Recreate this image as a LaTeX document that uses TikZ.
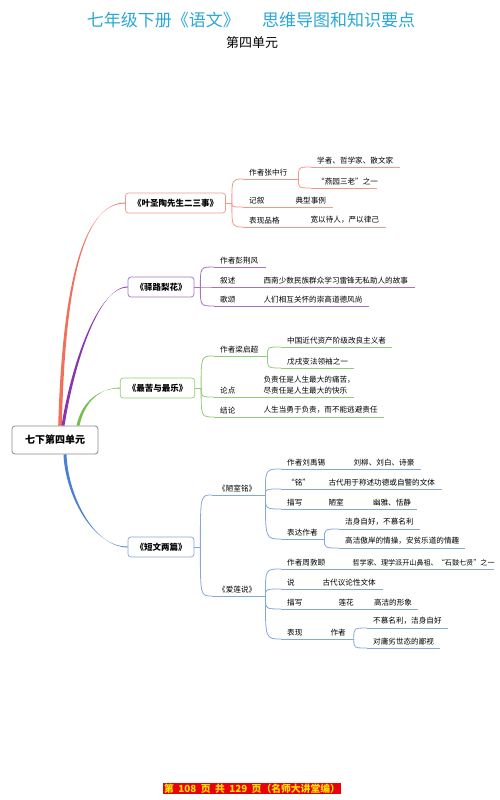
\documentclass[tikz,border=0pt]{standalone}
\usepackage{fontspec}
\setmainfont{Noto Sans CJK SC}
\usetikzlibrary{calc}

\definecolor{titleblue}{HTML}{2AA7D9}
\definecolor{redbr}{HTML}{F0705C}
\definecolor{redln}{HTML}{F29A8A}
\definecolor{purbr}{HTML}{8A35AE}
\definecolor{purln}{HTML}{A772C2}
\definecolor{grnbr}{HTML}{74BE52}
\definecolor{grnln}{HTML}{92CC78}
\definecolor{blubr}{HTML}{4A80D2}
\definecolor{bluln}{HTML}{84A8DA}
\definecolor{pagered}{HTML}{E8000B}
\definecolor{pageyel}{HTML}{FFE600}

\begin{document}
\begin{tikzpicture}[
  x=1bp, y=-1bp,
  font=\fontsize{7.6bp}{9bp}\selectfont,
  rootbox/.style={
    draw=black!45, rounded corners=3bp, line width=0.8bp, fill=white,
    minimum width=86bp, minimum height=28bp,
    font=\fontsize{10bp}{12bp}\selectfont\bfseries
  },
  book/.style={
    draw=#1, rounded corners=3bp, line width=0.7bp, fill=white,
    inner xsep=7.5bp, minimum height=20bp,
    font=\fontsize{8.5bp}{10bp}\selectfont\bfseries
  },
  tp/.style={anchor=south west, inner xsep=6bp, inner ysep=3bp, text width=#1bp, align=left},
  rl/.style={draw=redln, line width=0.8bp},
  pl/.style={draw=purln, line width=0.8bp},
  gl/.style={draw=grnln, line width=0.8bp},
  bl/.style={draw=bluln, line width=0.8bp}
]
\useasboundingbox (0,0) rectangle (500,800);

% =================== TITLE ===================
\node[font=\fontsize{17bp}{20bp}\selectfont, text=titleblue] (title) at (251,20)
  {七年级下册《语文》\hspace{1.3em}思维导图和知识要点};
\node[font=\fontsize{13bp}{15bp}\selectfont] (unit) at (252,43) {第四单元};

% =================== ROOT + BOOKS ===================
\node[rootbox] (root) at (55,440) {七下第四单元};

\node[book=redln] (b1) at (175.5,203) {《叶圣陶先生二三事》};
\node[book=purln] (b2) at (161,287)   {《驿路梨花》};
\node[book=grnln] (b3) at (157.5,388) {《最苦与最乐》};
\node[book=bluln] (b4) at (161,547)   {《短文两篇》};

\coordinate (b1s) at ([xshift=6bp]b1.east);
\coordinate (b2s) at ([xshift=6bp]b2.east);
\coordinate (b3s) at ([xshift=6bp]b3.east);
\coordinate (b4s) at ([xshift=6bp]b4.east);

% tapered branches (root -> books)
\fill[redbr] ([xshift=3.2bp]root.north)
  .. controls ($(root.north)+(7,-130)$) and ($(b1.west)+(-45,0)$) .. ([yshift=-0.5bp]b1.west)
  -- ([yshift=0.5bp]b1.west)
  .. controls ($(b1.west)+(-45,0.5)$) and ($(root.north)+(10,-130)$) .. ([xshift=6.8bp]root.north) -- cycle;
\fill[purbr] ([xshift=6.5bp]root.north)
  .. controls ($(root.north)+(16,-60)$) and ($(b2.west)+(-30,0)$) .. ([yshift=-0.5bp]b2.west)
  -- ([yshift=0.5bp]b2.west)
  .. controls ($(b2.west)+(-30,0.5)$) and ($(root.north)+(19,-60)$) .. ([xshift=9.5bp]root.north) -- cycle;
\fill[grnbr] ([xshift=21.5bp]root.north)
  .. controls ($(root.north)+(27,-25)$) and ($(b3.west)+(-20,0)$) .. ([yshift=-0.5bp]b3.west)
  -- ([yshift=0.5bp]b3.west)
  .. controls ($(b3.west)+(-20,0.5)$) and ($(root.north)+(30,-25)$) .. ([xshift=24.5bp]root.north) -- cycle;
\fill[blubr] ([xshift=8.5bp]root.south)
  .. controls ($(root.south)+(10,40)$) and ($(b4.west)+(-35,0)$) .. ([yshift=0.5bp]b4.west)
  -- ([yshift=-0.5bp]b4.west)
  .. controls ($(b4.west)+(-35,-0.5)$) and ($(root.south)+(13,40)$) .. ([xshift=11.5bp]root.south) -- cycle;

% =================== 叶圣陶先生二三事 ===================
\node[tp=43] (r1)  at (243,179) {作者张中行};
\node[tp=77] (r11) at (311,167) {学者、哲学家、散文家};
\node[tp=54] (r12) at (311,188) {“燕园三老”之一};
\node[tp=34] (r2)  at (243,207) {记叙};
\node[tp=31] (r21) at (r2.south east) {典型事例};
\node[tp=49] (r3)  at (243,227) {表现品格};
\node[tp=69] (r31) at (r3.south east) {宽以待人，严以律己};

% =================== 驿路梨花 ===================
\node[tp=40]  (p1)  at (214,267) {作者彭荆风};
\node[tp=31]  (p2)  at (214,287) {叙述};
\node[tp=145] (p21) at (p2.south east) {西南少数民族群众学习雷锋无私助人的故事};
\node[tp=31]  (p3)  at (214,306) {歌颂};
\node[tp=99]  (p31) at (p3.south east) {人们相互关怀的崇高道德风尚};

% =================== 最苦与最乐 ===================
\node[tp=41]  (g1)  at (214,356) {作者梁启超};
\node[tp=99]  (g11) at (281,347) {中国近代资产阶级改良主义者};
\node[tp=61]  (g12) at (281,368) {戊戌变法领袖之一};
\node[tp=31]  (g2)  at (214,397) {论点};
\node[tp=84, font=\fontsize{7.6bp}{10.5bp}\selectfont] (g21) at (g2.south east)
  {负责任是人生最大的痛苦，\\尽责任是人生最大的快乐};
\node[tp=31]  (g3)  at (214,417) {结论};
\node[tp=114] (g31) at (g3.south east) {人生当勇于负责，而不能逃避责任};

% =================== 短文两篇 ===================
\node[tp=41]  (l1)   at (212,495) {《陋室铭》};
\node[tp=54]  (l11)  at (281,469) {作者刘禹锡};
\node[tp=61]  (l111) at (l11.south east) {刘柳、刘白、诗豪};
\node[tp=29]  (l12)  at (281,489) {“铭”};
\node[tp=107] (l121) at (l12.south east) {古代用于称述功德或自警的文体};
\node[tp=29]  (l13)  at (281,509) {描写};
\node[tp=32]  (l131) at (l13.south east) {陋室};
\node[tp=38]  (l132) at (l131.south east) {幽雅、恬静};
\node[tp=31]  (l14)  at (281,539) {表达作者};
\node[tp=69]  (l141) at (339,529) {洁身自好，不慕名利};
\node[tp=114] (l142) at (339,548) {高洁傲岸的情操，安贫乐道的情趣};

\node[tp=41]  (l2)   at (212,596) {《爱莲说》};
\node[tp=53]  (l21)  at (281,569) {作者周敦颐};
\node[tp=135, font=\fontsize{7.1bp}{9bp}\selectfont] (l211) at (l21.south east)
  {哲学家、理学派开山鼻祖、“石鼓七贤”之一};
\node[tp=23]  (l22)  at (281,589) {说};
\node[tp=54]  (l221) at (l22.south east) {古代议论性文体};
\node[tp=39]  (l23)  at (281,609) {描写};
\node[tp=23]  (l231) at (l23.south east) {莲花};
\node[tp=38]  (l232) at (l231.south east) {高洁的形象};
\node[tp=31]  (l24)  at (281,639) {表现};
\node[tp=17]  (l241) at (l24.south east) {作者};
\node[tp=69]  (l2411) at (367,628) {不慕名利，洁身自好};
\node[tp=61]  (l2412) at (367,648) {对庸劣世态的鄙视};

% =================== UNDERLINES ===================
\foreach \n in {r1,r11,r12,r2,r21,r3,r31}
  \draw[rl] (\n.south west) -- (\n.south east);
\foreach \n in {p1,p2,p21,p3,p31}
  \draw[pl] (\n.south west) -- (\n.south east);
\foreach \n in {g1,g11,g12,g2,g21,g3,g31}
  \draw[gl] (\n.south west) -- (\n.south east);
\foreach \n in {l1,l11,l111,l12,l121,l13,l131,l132,l14,l141,l142,
                l2,l21,l211,l22,l221,l23,l231,l232,l24,l241,l2411,l2412}
  \draw[bl] (\n.south west) -- (\n.south east);

% =================== BRACKETS ===================
\draw[rl] (b1.east) -- (b1s);
\foreach \n in {r1,r2,r3}
  \draw[rl] (b1s) .. controls (b1s |- \n.south west) .. (\n.south west);
\foreach \n in {r11,r12}
  \draw[rl] (r1.south east) .. controls (r1.south east |- \n.south west) .. (\n.south west);

\draw[pl] (b2.east) -- (b2s);
\foreach \n in {p1,p2,p3}
  \draw[pl] (b2s) .. controls (b2s |- \n.south west) .. (\n.south west);

\draw[gl] (b3.east) -- (b3s);
\foreach \n in {g1,g2,g3}
  \draw[gl] (b3s) .. controls (b3s |- \n.south west) .. (\n.south west);
\foreach \n in {g11,g12}
  \draw[gl] (g1.south east) .. controls (g1.south east |- \n.south west) .. (\n.south west);

\draw[bl] (b4.east) -- (b4s);
\foreach \n in {l1,l2}
  \draw[bl] (b4s) .. controls (b4s |- \n.south west) .. (\n.south west);
\foreach \n in {l11,l12,l13,l14}
  \draw[bl] (l1.south east) .. controls (l1.south east |- \n.south west) .. (\n.south west);
\foreach \n in {l141,l142}
  \draw[bl] (l14.south east) .. controls (l14.south east |- \n.south west) .. (\n.south west);
\foreach \n in {l21,l22,l23,l24}
  \draw[bl] (l2.south east) .. controls (l2.south east |- \n.south west) .. (\n.south west);
\foreach \n in {l2411,l2412}
  \draw[bl] (l241.south east) .. controls (l241.south east |- \n.south west) .. (\n.south west);

% =================== FOOTER ===================
\node[fill=pagered, text=pageyel, font=\fontsize{9.8bp}{11bp}\selectfont\bfseries,
  inner xsep=1bp, inner ysep=0.5bp, minimum height=11bp] (page) at (252,788.5)
  {第\ \ 108\ \ 页\ \ 共\ \ 129\ \ 页（名师大讲堂编）};

\end{tikzpicture}
\end{document}
